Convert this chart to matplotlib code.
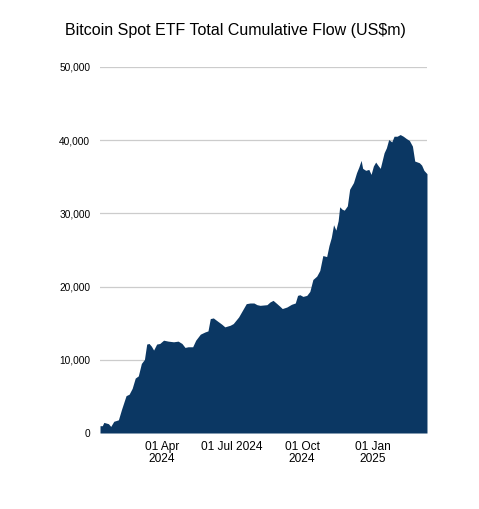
import numpy as np
import pandas as pd
import matplotlib
matplotlib.use("Agg")
import matplotlib.pyplot as plt
import matplotlib.dates as mdates
from matplotlib.ticker import FuncFormatter

plt.rcParams['font.family'] = ['Liberation Sans', 'DejaVu Sans']

# cumulative net flow, US$m
dates = ["2024-01-11", "2024-01-14", "2024-01-16", "2024-01-22", "2024-01-25", "2024-01-29",
         "2024-02-04", "2024-02-08", "2024-02-14", "2024-02-18", "2024-02-22", "2024-02-26",
         "2024-03-01", "2024-03-05", "2024-03-09", "2024-03-12", "2024-03-15", "2024-03-18",
         "2024-03-21", "2024-03-25", "2024-03-29", "2024-04-03", "2024-04-09", "2024-04-16",
         "2024-04-22", "2024-04-27", "2024-05-01", "2024-05-05", "2024-05-11", "2024-05-15",
         "2024-05-21", "2024-05-27", "2024-05-31", "2024-06-03", "2024-06-07", "2024-06-11",
         "2024-06-18", "2024-06-22", "2024-06-29", "2024-07-03", "2024-07-10", "2024-07-15",
         "2024-07-20", "2024-07-25", "2024-07-30", "2024-08-03", "2024-08-07", "2024-08-16",
         "2024-08-20", "2024-08-24", "2024-08-29", "2024-09-02", "2024-09-05", "2024-09-11",
         "2024-09-17", "2024-09-22", "2024-09-25", "2024-09-28", "2024-10-02", "2024-10-07",
         "2024-10-11", "2024-10-15", "2024-10-20", "2024-10-24", "2024-10-28", "2024-11-02",
         "2024-11-05", "2024-11-08", "2024-11-11", "2024-11-14", "2024-11-17", "2024-11-19",
         "2024-11-22", "2024-11-25", "2024-11-29", "2024-12-02", "2024-12-07", "2024-12-11",
         "2024-12-14", "2024-12-17", "2024-12-19", "2024-12-23", "2024-12-27", "2024-12-30",
         "2025-01-02", "2025-01-05", "2025-01-08", "2025-01-11", "2025-01-16", "2025-01-19",
         "2025-01-22", "2025-01-26", "2025-01-29", "2025-02-02", "2025-02-06", "2025-02-10",
         "2025-02-14", "2025-02-18", "2025-02-22", "2025-02-25", "2025-03-03", "2025-03-06",
         "2025-03-09", "2025-03-13"]
flow = [1000, 1000, 1450, 1270, 900, 1600,
        1800, 3200, 5100, 5300, 6100, 7500,
        7800, 9500, 10050, 12150, 12230, 11870,
        11330, 12150, 12230, 12680, 12550, 12460,
        12550, 12230, 11690, 11780, 11780, 12680,
        13500, 13800, 13950, 15630, 15720, 15400,
        14860, 14500, 14720, 14950, 15850, 16760,
        17670, 17760, 17760, 17530, 17440, 17530,
        17900, 18120, 17670, 17300, 17000, 17210,
        17580, 17760, 18800, 18890, 18660, 18800,
        19340, 20970, 21430, 22200, 24240, 24100,
        25600, 26700, 28450, 27720, 29000, 30900,
        30580, 30440, 31030, 33300, 34200, 35560,
        36330, 37240, 36150, 35880, 36010, 35330,
        36470, 37010, 36560, 36150, 38280, 38960,
        40090, 39770, 40540, 40540, 40770, 40540,
        40230, 39960, 39190, 37150, 36920, 36600,
        35880, 35420]

tick_dates = ["2024-04-01", "2024-07-01", "2024-10-01", "2025-01-01"]
tick_labels = ["01 Apr\n2024", "01 Jul 2024", "01 Oct\n2024", "01 Jan\n2025"]
y_ticks = [0, 10000, 20000, 30000, 40000, 50000]

x = pd.to_datetime(dates)

fig = plt.figure(figsize=(4.79, 5.09), dpi=100)
ax = fig.add_axes([0.2088, 0.1493, 0.6826, 0.7191])

ax.fill_between(x, 0, flow, color="#0b3763", linewidth=0)

ax.set_xlim(x[0], x[-1])
ax.set_ylim(0, 50000)
ax.set_yticks(y_ticks)
ax.yaxis.set_major_formatter(FuncFormatter(lambda v, p: f"{int(v):,}"))
ax.set_xticks(pd.to_datetime(tick_dates))
ax.set_xticklabels(tick_labels, ha="center", linespacing=0.95)

ax.grid(axis="y", color="#cccccc", linewidth=0.9)
ax.set_axisbelow(True)
for s in ax.spines.values():
    s.set_visible(False)
ax.tick_params(axis="both", length=0)
ax.tick_params(axis="y", labelsize=7.3, pad=7)
ax.tick_params(axis="x", labelsize=8.6, pad=6)

fig.text(0.491, 0.941, "Bitcoin Spot ETF Total Cumulative Flow (US$m)",
         ha="center", va="center", fontsize=11.5, color="#000000")

fig.savefig("out.png", dpi=100)
